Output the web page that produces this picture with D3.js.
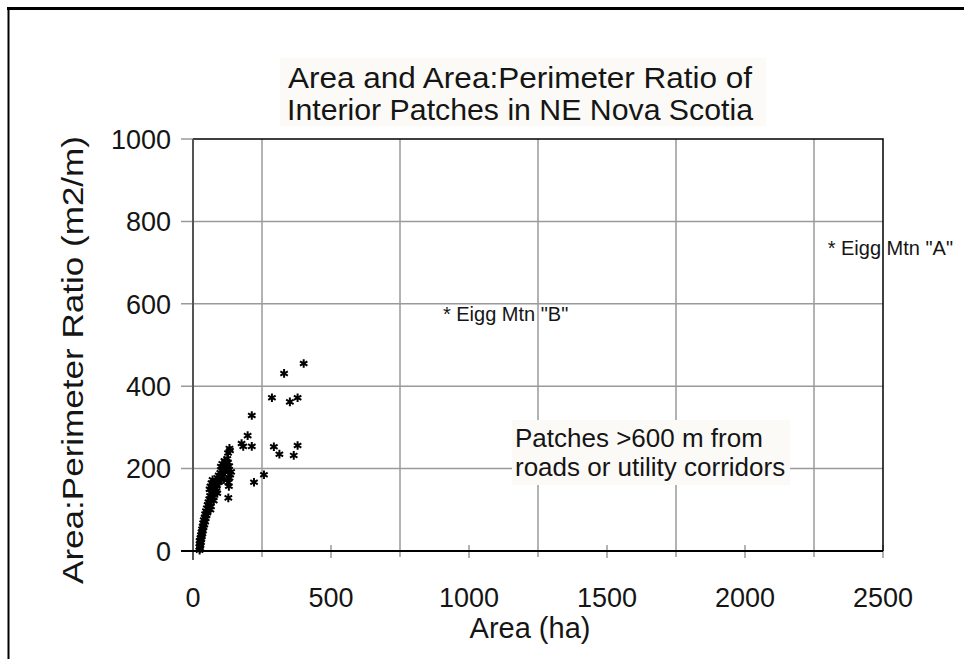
<!DOCTYPE html>
<html>
<head>
<meta charset="utf-8">
<script src="https://cdn.jsdelivr.net/npm/d3@7"></script>
<style>
  body { margin: 0; background: #fff; }
  svg text { font-family: "Liberation Sans", Arial, sans-serif; fill: #151515; }
</style>
</head>
<body>
<div id="chart"></div>
<script>
// patch area (ha) and area:perimeter ratio (m2/m)
var areaHa = [24, 26, 23, 27, 25, 29, 24, 30, 27, 32, 29, 34, 31, 36, 33, 38, 35, 41, 37, 44,
    39, 46, 42, 49, 44, 52, 47, 55, 50, 58, 53, 61, 56, 64, 59, 68, 62, 72, 66, 77,
    70, 82, 74, 63, 87, 78, 67, 92, 83, 71, 97, 88, 103, 93, 109, 99, 116, 105, 124, 111,
    101, 119, 106, 127, 114, 124, 128, 130, 132, 127, 132, 134, 128, 135, 127, 131,
    63, 65, 75, 73, 88, 85, 60, 96, 112, 138,
    176, 182, 198, 213, 213, 221, 257, 286, 293, 313, 330, 351, 365, 379, 379, 401];
var ratio = [2, 6, 10, 14, 18, 21, 25, 28, 32, 35, 39, 42, 46, 49, 53, 57, 60, 64, 68, 71,
    75, 79, 82, 86, 90, 93, 97, 101, 104, 108, 112, 115, 119, 123, 126, 130, 134, 137, 141, 144,
    148, 151, 154, 157, 159, 162, 165, 167, 170, 173, 175, 178, 181, 184, 187, 190, 192, 195, 198, 201,
    205, 208, 212, 215, 219, 224, 129, 157, 177, 238, 249, 244, 166, 185, 197, 206,
    100, 108, 122, 131, 140, 146, 150, 168, 174, 192,
    261, 254, 280, 329, 254, 167, 185, 372, 253, 235, 431, 362, 232, 372, 256, 455];

// the two named patches
var namedArea = [920, 2314];
var namedRatio = [584, 744];
var namedLabel = ['* Eigg Mtn "B"', '* Eigg Mtn "A"'];

var xTicks = [0, 500, 1000, 1500, 2000, 2500];
var xGrid = [250, 750, 1250, 1750, 2250];
var yTicks = [0, 200, 400, 600, 800, 1000];

var width = 964,
    height = 659;

var svg = d3.select("#chart")
    .append("svg")
    .attr("width", width)
    .attr("height", height);

// frame of the pasted picture (top and left edges only)
svg.append("line").attr("x1", 7).attr("x2", width).attr("y1", 8.5).attr("y2", 8.5)
    .attr("stroke", "#000").attr("stroke-width", 3);
svg.append("line").attr("x1", 8.5).attr("x2", 8.5).attr("y1", 7).attr("y2", height)
    .attr("stroke", "#000").attr("stroke-width", 2);

var x = d3.scaleLinear().domain([0, 2500]).range([193, 883]);
var y = d3.scaleLinear().domain([0, 1000]).range([551, 139]);

var grid = "#9a9a9a";

// horizontal grid lines, they run out past the axis as ticks
svg.append("g")
    .selectAll("line")
    .data(yTicks.slice(1, -1))
    .enter()
    .append("line")
    .attr("x1", x(0) - 12)
    .attr("x2", x(2500))
    .attr("y1", function(d) { return y(d); })
    .attr("y2", function(d) { return y(d); })
    .attr("stroke", grid)
    .attr("stroke-width", 1.5);

// vertical grid lines sit half way between the labels
svg.append("g")
    .selectAll("line")
    .data(xGrid)
    .enter()
    .append("line")
    .attr("x1", function(d) { return x(d); })
    .attr("x2", function(d) { return x(d); })
    .attr("y1", y(1000))
    .attr("y2", y(0) + 6)
    .attr("stroke", grid)
    .attr("stroke-width", 1.5);

// small ticks under the labelled values
svg.append("g")
    .selectAll("line")
    .data(xTicks.slice(1))
    .enter()
    .append("line")
    .attr("x1", function(d) { return x(d); })
    .attr("x2", function(d) { return x(d); })
    .attr("y1", y(0) - 6)
    .attr("y2", y(0) + 7)
    .attr("stroke", grid)
    .attr("stroke-width", 1.5);

// top tick + plot border
svg.append("line").attr("x1", x(0) - 12).attr("x2", x(0)).attr("y1", y(1000)).attr("y2", y(1000))
    .attr("stroke", grid).attr("stroke-width", 1.5);
svg.append("path")
    .attr("d", "M" + x(0) + "," + y(1000) + "H" + x(2500) + "V" + y(0))
    .attr("fill", "none")
    .attr("stroke", "#000")
    .attr("stroke-width", 1.5);

// axes
svg.append("line").attr("x1", x(0)).attr("x2", x(0)).attr("y1", y(1000)).attr("y2", y(0) + 9)
    .attr("stroke", "#555").attr("stroke-width", 2);
svg.append("line").attr("x1", x(0) - 12).attr("x2", x(2500)).attr("y1", y(0)).attr("y2", y(0))
    .attr("stroke", "#000").attr("stroke-width", 2);

// tick labels
svg.append("g")
    .selectAll("text")
    .data(yTicks)
    .enter()
    .append("text")
    .attr("x", 171)
    .attr("y", function(d) { return y(d); })
    .attr("dy", "0.36em")
    .attr("text-anchor", "end")
    .style("font-size", "27px")
    .text(function(d) { return d; });

svg.append("g")
    .selectAll("text")
    .data(xTicks)
    .enter()
    .append("text")
    .attr("x", function(d) { return x(d); })
    .attr("y", 607)
    .attr("text-anchor", "middle")
    .style("font-size", "27px")
    .text(function(d) { return d; });

// axis titles
svg.append("text")
    .attr("x", 530)
    .attr("y", 638)
    .attr("text-anchor", "middle")
    .style("font-size", "29px")
    .text("Area (ha)");

svg.append("text")
    .attr("transform", "translate(83,360) rotate(-90)")
    .attr("text-anchor", "middle")
    .attr("textLength", 448)
    .attr("lengthAdjust", "spacingAndGlyphs")
    .style("font-size", "29px")
    .text("Area:Perimeter Ratio (m2/m)");

// chart title with its light box
svg.append("rect")
    .attr("x", 280).attr("y", 58).attr("width", 486).attr("height", 68)
    .attr("fill", "#fbfaf7");
var title = svg.append("text")
    .attr("text-anchor", "middle")
    .style("font-size", "30px");
title.append("tspan").attr("x", 520).attr("y", 88)
    .attr("textLength", 464).attr("lengthAdjust", "spacingAndGlyphs")
    .text("Area and Area:Perimeter Ratio of");
title.append("tspan").attr("x", 520).attr("y", 120)
    .attr("textLength", 466).attr("lengthAdjust", "spacingAndGlyphs")
    .text("Interior Patches in NE Nova Scotia");

// note box
svg.append("rect")
    .attr("x", 512).attr("y", 420).attr("width", 278).attr("height", 65)
    .attr("fill", "#fbfaf7");
var note = svg.append("text")
    .style("font-size", "26px");
note.append("tspan").attr("x", 515).attr("y", 447).text("Patches >600 m from");
note.append("tspan").attr("x", 515).attr("y", 476).text("roads or utility corridors");

// points
var star = d3.symbol().type(d3.symbolAsterisk).size(52);
svg.append("g")
    .selectAll("path")
    .data(areaHa)
    .enter()
    .append("path")
    .attr("transform", function(d, i) { return "translate(" + x(d) + "," + y(ratio[i]) + ")"; })
    .attr("d", star)
    .attr("fill", "none")
    .attr("stroke", "#000")
    .attr("stroke-width", 2);

// the two big patches are drawn as labelled asterisks
svg.append("g")
    .selectAll("text")
    .data(namedArea)
    .enter()
    .append("text")
    .attr("x", function(d) { return x(d) - 4; })
    .attr("y", function(d, i) { return y(namedRatio[i]) + 11; })
    .style("font-size", "20px")
    .text(function(d, i) { return namedLabel[i]; });
</script>
</body>
</html>
